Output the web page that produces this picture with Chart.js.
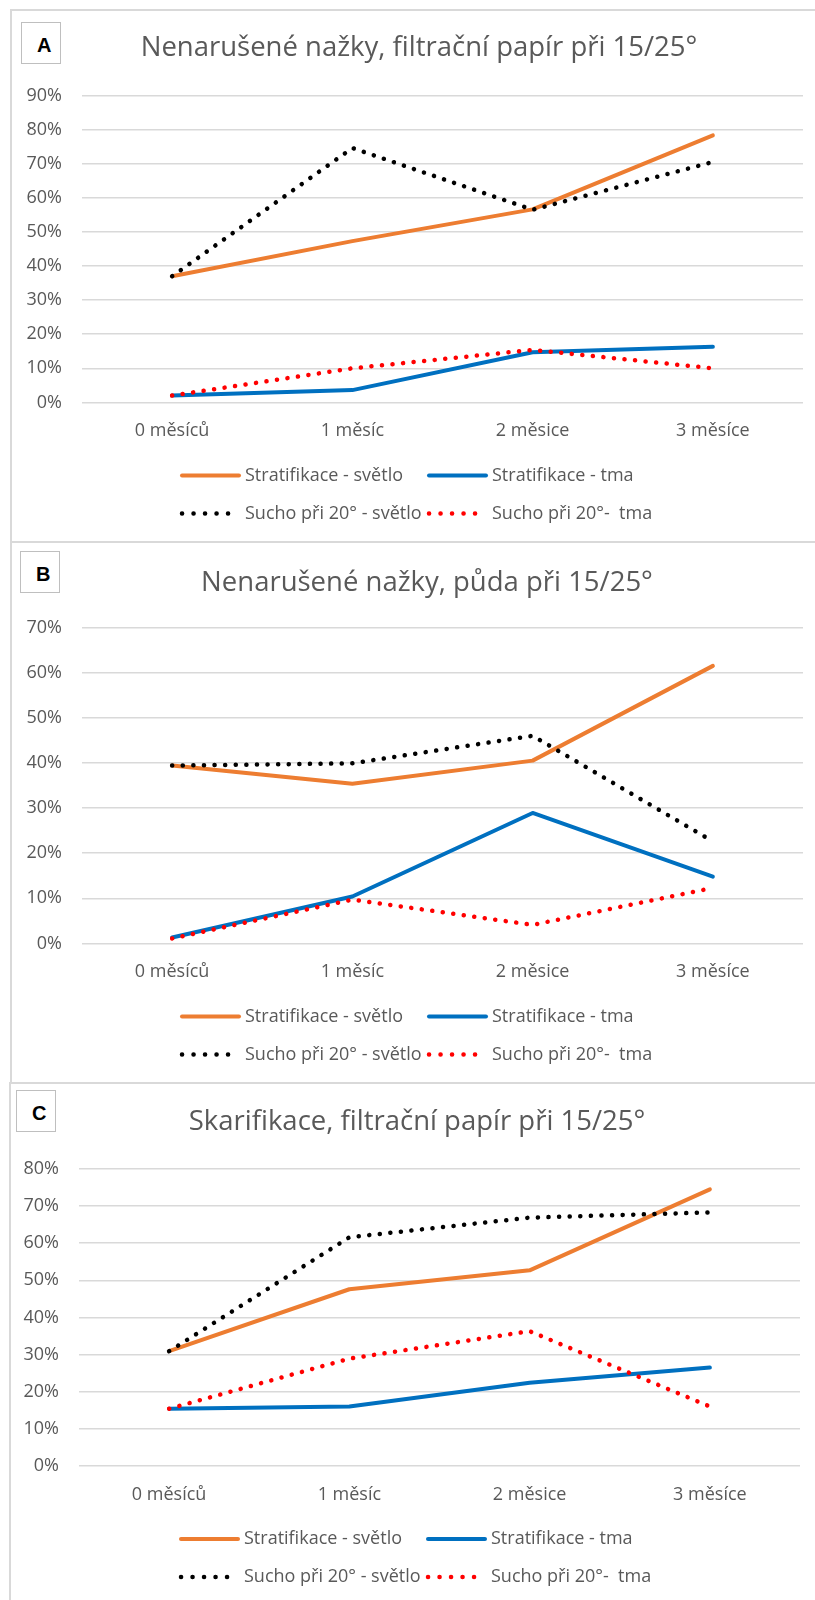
<!DOCTYPE html>
<html>
<head>
<meta charset="utf-8">
<script src="https://cdn.jsdelivr.net/npm/chart.js@4.4.1/dist/chart.umd.min.js"></script>
<style>
  html, body { margin: 0; padding: 0; background: #fff; overflow: hidden; }
  body { position: relative; width: 815px; height: 1600px; }
  canvas { position: absolute; }
  .line { position: absolute; background: #d9d9d9; }
  .tag {
    position: absolute; box-sizing: border-box; width: 40px; height: 42px;
    border: 1.5px solid #bfbfbf; background: #fff;
    font: bold 20px "Liberation Sans", Arial, sans-serif; color: #000;
    padding: 11px 0 0 15px;
  }
</style>
</head>
<body>
<div class="line" style="left:10px;top:9px;width:805px;height:2px"></div>
<div class="line" style="left:10px;top:541px;width:805px;height:2px"></div>
<div class="line" style="left:10px;top:1082px;width:805px;height:2px"></div>
<div class="line" style="left:10px;top:9px;width:2px;height:1074px"></div>
<div class="line" style="left:9px;top:1082px;width:2px;height:520px"></div>

<canvas id="chartA" width="818" height="533" style="left:10px;top:9px"></canvas>
<canvas id="chartB" width="834" height="541" style="left:10px;top:542px"></canvas>
<canvas id="chartC" width="816" height="517" style="left:9px;top:1083px"></canvas>

<div class="tag" style="left:21px;top:22px">A</div>
<div class="tag" style="left:20px;top:551px">B</div>
<div class="tag" style="left:16px;top:1090px">C</div>

<script>
const categories = ['0 měsíců', '1 měsíc', '2 měsice', '3 měsíce'];
const seriesNames = ['Stratifikace - světlo', 'Stratifikace - tma', 'Sucho při 20° - světlo', 'Sucho při 20°-  tma'];

// A: Nenarušené nažky, filtrační papír
const strat_svetlo_A = [37.0, 47.3, 56.6, 78.3];
const strat_tma_A = [2.0, 3.6, 14.7, 16.3];
const sucho_svetlo_A = [37.0, 74.6, 56.5, 70.5];
const sucho_tma_A = [2.0, 10.0, 15.4, 10.0];

// B: Nenarušené nažky, půda
const strat_svetlo_B = [39.4, 35.4, 40.5, 61.5];
const strat_tma_B = [1.3, 10.4, 28.9, 14.8];
const sucho_svetlo_B = [39.4, 39.9, 46.0, 22.6];
const sucho_tma_B = [1.1, 9.7, 4.1, 12.3];

// C: Skarifikace, filtrační papír
const strat_svetlo_C = [30.9, 47.6, 52.7, 74.5];
const strat_tma_C = [15.4, 16.0, 22.4, 26.5];
const sucho_svetlo_C = [30.9, 61.6, 66.9, 68.3];
const sucho_tma_C = [15.4, 28.9, 36.3, 16.0];

const yMaxA = 90, yMaxB = 70, yMaxC = 80;

const GREY = '#595959';
const FONT = '"Open Sans", sans-serif';

// legend drawn in two rows under the plot, Excel style
const legendRows = {
  id: 'legendRows',
  afterDraw(chart, args, opts) {
    const ctx = chart.ctx;
    const area = chart.chartArea;
    chart.data.datasets.forEach((ds, i) => {
      const x = opts.cols[i % 2];
      const y = area.bottom + opts.rows[Math.floor(i / 2)];
      ctx.save();
      ctx.strokeStyle = ds.borderColor;
      ctx.lineWidth = ds.borderWidth;
      ctx.lineCap = ds.borderCapStyle;
      ctx.setLineDash(ds.legendDash || []);
      ctx.beginPath();
      ctx.moveTo(x + 2, y);
      ctx.lineTo(x + 59, y);
      ctx.stroke();
      ctx.setLineDash([]);
      ctx.fillStyle = GREY;
      ctx.font = '18px ' + FONT;
      ctx.textBaseline = 'middle';
      ctx.fillText(ds.label, x + 65, y);
      ctx.restore();
    });
  }
};

function makeDatasets(s1, s2, s3, s4) {
  const solid = { borderWidth: 4, borderCapStyle: 'round', borderJoinStyle: 'round', pointRadius: 0, tension: 0, fill: false };
  const dotted = { borderWidth: 4.5, borderCapStyle: 'round', borderDash: [0.1, 10.5], legendDash: [0.1, 11.4], pointRadius: 0, tension: 0, fill: false };
  return [
    { ...solid, label: seriesNames[0], data: s1, borderColor: '#ED7D31', order: 4 },
    { ...solid, label: seriesNames[1], data: s2, borderColor: '#0070C0', order: 3 },
    { ...dotted, label: seriesNames[2], data: s3, borderColor: '#000000', order: 2 },
    { ...dotted, label: seriesNames[3], data: s4, borderColor: '#FF0000', order: 1 }
  ];
}

function makeChart(id, title, datasets, yMax, lay) {
  new Chart(document.getElementById(id), {
    type: 'line',
    data: { labels: categories, datasets },
    plugins: [legendRows],
    options: {
      responsive: false,
      animation: false,
      layout: { padding: { left: 0, right: 0, top: 0, bottom: lay.bottom } },
      plugins: {
        legend: { display: false },
        tooltip: { enabled: false },
        title: {
          display: true,
          text: title,
          color: GREY,
          font: { family: FONT, size: 27.5, weight: 'normal', lineHeight: 1.2 },
          padding: { top: lay.titleTop, bottom: lay.titleBottom }
        },
        legendRows: { cols: [170, 417], rows: [73, 111] }
      },
      scales: {
        x: {
          offset: true,
          grid: { display: false, drawTicks: false },
          border: { display: false },
          ticks: { color: GREY, padding: 18, font: { family: FONT, size: 18 } }
        },
        y: {
          min: 0,
          max: yMax,
          afterFit: (s) => { s.width = lay.yWidth; },
          grid: { color: '#d9d9d9', lineWidth: 1.5, drawTicks: false },
          border: { display: false },
          ticks: {
            stepSize: 10,
            color: GREY,
            padding: 20,
            font: { family: FONT, size: 18 },
            callback: (v) => v + '%'
          }
        },
        // empty right-hand spacer so the title stays centred on the whole canvas
        spacer: {
          type: 'linear',
          position: 'right',
          afterFit: (s) => { s.width = lay.right; },
          grid: { display: false, drawTicks: false },
          border: { display: false },
          ticks: { display: false }
        }
      }
    }
  });
}

makeChart('chartA', 'Nenarušené nažky, filtrační papír při 15/25°',
  makeDatasets(strat_svetlo_A, strat_tma_A, sucho_svetlo_A, sucho_tma_A), yMaxA,
  { right: 25, bottom: 82, titleTop: 23, titleBottom: 30.5, yWidth: 72 });

makeChart('chartB', 'Nenarušené nažky, půda při 15/25°',
  makeDatasets(strat_svetlo_B, strat_tma_B, sucho_svetlo_B, sucho_tma_B), yMaxB,
  { right: 41, bottom: 82, titleTop: 24.5, titleBottom: 28, yWidth: 72 });

makeChart('chartC', 'Skarifikace, filtrační papír při 15/25°',
  makeDatasets(strat_svetlo_C, strat_tma_C, sucho_svetlo_C, sucho_tma_C), yMaxC,
  { right: 25, bottom: 76.5, titleTop: 22.5, titleBottom: 30.5, yWidth: 70 });
</script>
</body>
</html>
